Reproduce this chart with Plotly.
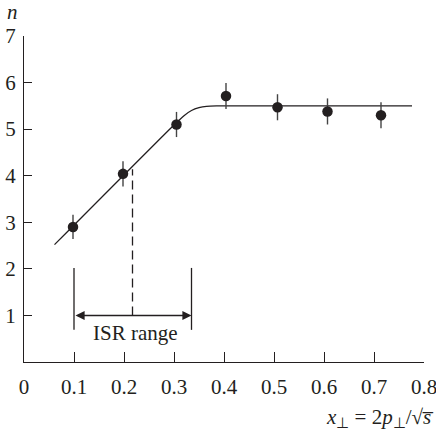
import plotly.graph_objects as go

# measured data
x_pts = [0.098, 0.198, 0.305, 0.404, 0.507, 0.607, 0.714]
n_pts = [2.90, 4.04, 5.10, 5.71, 5.47, 5.38, 5.30]
n_err = [0.26, 0.27, 0.27, 0.28, 0.28, 0.28, 0.28]

# fitted curve
fit_x = [0.061, 0.300, 0.320, 0.335, 0.350, 0.365, 0.385, 0.776]
fit_n = [2.52, 5.09, 5.29, 5.40, 5.46, 5.49, 5.50, 5.50]

# ISR range marks
isr_lo, isr_hi = 0.1, 0.335
isr_bar_n = [0.69, 2.02]
isr_arrow_n = 1.0
isr_mid_x = 0.217
isr_mid_top = 4.14

x_ticks = [0, 0.1, 0.2, 0.3, 0.4, 0.5, 0.6, 0.7, 0.8]
x_labels = ["0", "0.1", "0.2", "0.3", "0.4", "0.5", "0.6", "0.7", "0.8"]
y_ticks = [1, 2, 3, 4, 5, 6, 7]

ink = "#231f20"
font = "Liberation Serif"

fig = go.Figure()
fig.add_trace(go.Scatter(x=fit_x, y=fit_n, mode="lines",
                         line=dict(color=ink, width=1.3, shape="spline", smoothing=0.6),
                         hoverinfo="skip"))
fig.add_trace(go.Scatter(x=x_pts, y=n_pts, mode="markers",
                         marker=dict(color=ink, size=10.5),
                         error_y=dict(type="data", array=n_err, color="#444", thickness=1.4, width=0)))
for xv in (isr_lo, isr_hi):
    fig.add_trace(go.Scatter(x=[xv, xv], y=isr_bar_n, mode="lines",
                             line=dict(color=ink, width=1.3), hoverinfo="skip"))
fig.add_trace(go.Scatter(x=[isr_mid_x, isr_mid_x], y=[isr_arrow_n, isr_mid_top], mode="lines",
                         line=dict(color=ink, width=1.3, dash="9px,5px"), hoverinfo="skip"))

fig.add_annotation(x=isr_hi, y=isr_arrow_n, ax=isr_lo, ay=isr_arrow_n,
                   xref="x", yref="y", axref="x", ayref="y", text="",
                   showarrow=True, arrowhead=2, arrowside="end+start",
                   arrowsize=1.3, arrowwidth=1.4, arrowcolor=ink)
fig.add_annotation(x=(isr_lo + isr_hi) / 2 + 0.005, y=0.62, xref="x", yref="y",
                   xanchor="center", yanchor="middle",
                   text="ISR range", showarrow=False,
                   font=dict(family=font, size=21, color=ink))
fig.add_annotation(x=-0.03, y=1.074, xref="paper", yref="paper",
                   xanchor="center", yanchor="middle",
                   text="<i>n</i>", showarrow=False,
                   font=dict(family=font, size=21, color=ink))
fig.add_annotation(x=1.03, y=-0.171, xref="paper", yref="paper",
                   xanchor="right", yanchor="middle",
                   text="<i>x</i><sub>⊥</sub> = 2<i>p</i><sub>⊥</sub>/√<i>s\u0305</i>",
                   showarrow=False, font=dict(family=font, size=21, color=ink))

fig.update_layout(
    width=436, height=431,
    margin=dict(l=24, r=12, t=36, b=69, autoexpand=False),
    paper_bgcolor="white", plot_bgcolor="white",
    showlegend=False,
    font=dict(family=font, size=21, color=ink),
)
fig.update_xaxes(range=[0, 0.8], tickvals=x_ticks, ticktext=x_labels,
                 ticks="inside", ticklen=10, tickwidth=1.3, tickcolor=ink,
                 showline=True, linecolor=ink, linewidth=1.3, automargin=False,
                 ticklabeloverflow="allow",
                 showgrid=False, zeroline=False, ticklabelstandoff=6)
fig.update_yaxes(range=[0, 7], tickvals=y_ticks,
                 ticks="inside", ticklen=8, tickwidth=1.3, tickcolor=ink,
                 showline=True, linecolor=ink, linewidth=1.3, automargin=False,
                 ticklabeloverflow="allow",
                 showgrid=False, zeroline=False, ticklabelstandoff=3)

fig.write_html("out.html", config={"displayModeBar": False},
               post_script="document.body.style.margin='0';")
